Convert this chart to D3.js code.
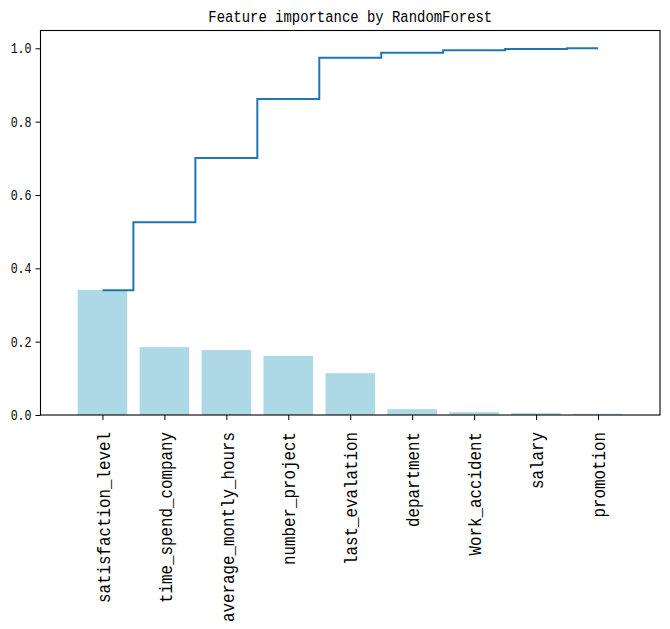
<!DOCTYPE html>
<html>
<head>
<meta charset="utf-8">
<script src="https://cdn.jsdelivr.net/npm/d3@7"></script>
<style>
  body { margin: 0; background: #fff; }
  text { font-family: "Liberation Mono", "DejaVu Sans Mono", monospace; fill: #000; }
</style>
</head>
<body>
<div id="chart"></div>
<script>
const features = [
  "satisfaction_level", "time_spend_company", "average_montly_hours",
  "number_project", "last_evalation", "department",
  "Work_accident", "salary", "promotion"
]
const importance = [0.341, 0.185, 0.177, 0.161, 0.114, 0.016, 0.008, 0.005, 0.003]
const cumulative = [0.340, 0.526, 0.701, 0.862, 0.974, 0.988, 0.995, 0.998, 1.000]
const yTicks = [0.0, 0.2, 0.4, 0.6, 0.8, 1.0]

const width = 670
const height = 629
const margin = { top: 30.5, right: 10, bottom: 214, left: 40.5 }

// SimHei-like half-width glyphs: squeeze a taller mono font to the reference advance
function halfWidth(sel, size) {
  sel
    .attr("font-size", size + "px")
    .attr("font-family", null)
    .attr("lengthAdjust", "spacingAndGlyphs")
    .attr("textLength", function () { return this.textContent.length * size * 0.5 })
}

const svg = d3.select("#chart")
  .append("svg")
  .attr("width", width)
  .attr("height", height)

const x = d3.scaleLinear()
  .domain([-1, 9])
  .range([margin.left, width - margin.right])

const y = d3.scaleLinear()
  .domain([0, 1.0486])
  .range([height - margin.bottom, margin.top])

const barW = x(0.4) - x(-0.4)

svg.append("g")
  .selectAll("rect")
  .data(importance)
  .enter()
  .append("rect")
  .attr("x", (d, i) => x(i - 0.4))
  .attr("y", (d) => y(d))
  .attr("width", barW)
  .attr("height", (d) => y(0) - y(d))
  .attr("fill", "#add8e6")

// step line, where="mid"
const line = d3.line()
  .x((d, i) => x(i))
  .y((d) => y(d))
  .curve(d3.curveStep)

svg.append("path")
  .attr("d", line(cumulative))
  .attr("fill", "none")
  .attr("stroke", "#1f77b4")
  .attr("stroke-width", 2)

// frame
svg.append("rect")
  .attr("x", margin.left)
  .attr("y", margin.top)
  .attr("width", width - margin.right - margin.left)
  .attr("height", height - margin.bottom - margin.top)
  .attr("fill", "none")
  .attr("stroke", "#000")
  .attr("stroke-width", 1.1)

const yAxis = svg.append("g")
  .attr("transform", `translate(${margin.left},0)`)
  .call(d3.axisLeft(y).tickValues(yTicks).tickFormat(d3.format(".1f")).tickSize(5).tickPadding(4))
yAxis.select(".domain").remove()
yAxis.selectAll("text").call(halfWidth, 13.9)

const xAxis = svg.append("g")
  .attr("transform", `translate(0,${height - margin.bottom})`)
  .call(d3.axisBottom(x).tickValues(d3.range(features.length)).tickFormat((i) => features[i]).tickSize(5))
xAxis.select(".domain").remove()
xAxis.selectAll("text")
  .call(halfWidth, 19)
  .attr("text-anchor", "end")
  .attr("transform", "rotate(-90)")
  .attr("x", -17)
  .attr("y", 0)
  .attr("dy", "0.35em")

svg.selectAll(".tick line").attr("stroke", "#000").attr("stroke-width", 1)

svg.append("text")
  .attr("x", (margin.left + width - margin.right) / 2)
  .attr("y", 22)
  .attr("text-anchor", "middle")
  .text("Feature importance by RandomForest")
  .call(halfWidth, 16.7)
</script>
</body>
</html>
